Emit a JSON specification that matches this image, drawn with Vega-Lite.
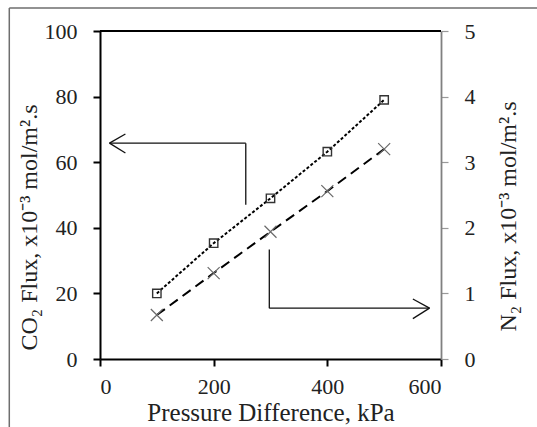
{
  "$schema": "https://vega.github.io/schema/vega-lite/v6.json",
  "width": 341,
  "height": 328,
  "autosize": {"type": "none"},
  "padding": {"left": 100, "top": 31, "right": 96, "bottom": 68},
  "background": "white",
  "config": {
    "view": {"stroke": null},
    "font": "Liberation Serif",
    "axis": {"grid": false, "labelFont": "Liberation Serif", "titleFont": "Liberation Serif", "labelFontSize": 22, "titleFontSize": 24, "labelColor": "#222", "titleColor": "#222", "titleFontWeight": "normal"}
  },
  "datasets": {
    "flux": [
      {"pressure": 100, "co2": 20.0, "n2": 0.67},
      {"pressure": 200, "co2": 35.3, "n2": 1.31},
      {"pressure": 300, "co2": 49.0, "n2": 1.94},
      {"pressure": 400, "co2": 63.2, "n2": 2.56},
      {"pressure": 500, "co2": 79.0, "n2": 3.20}
    ],
    "arrows": [
      {"x": 256.5, "y": 47.0, "x2": 256.5, "y2": 65.8},
      {"x": 256.5, "y": 65.8, "x2": 16.7, "y2": 65.8},
      {"x": 16.7, "y": 65.8, "x2": 44.7, "y2": 68.6},
      {"x": 16.7, "y": 65.8, "x2": 44.7, "y2": 62.8},
      {"x": 297.9, "y": 33.4, "x2": 297.9, "y2": 15.5},
      {"x": 297.9, "y": 15.5, "x2": 579.8, "y2": 15.5},
      {"x": 579.8, "y": 15.5, "x2": 550.5, "y2": 18.3},
      {"x": 579.8, "y": 15.5, "x2": 550.5, "y2": 12.3}
    ],
    "plotTop": [
      {"x": 0, "y": 100, "x2": 600, "y2": 100}
    ],
    "frame": [
      {"x": -159.6, "y": 107.0, "x2": 772, "y2": 107.0},
      {"x": -159.6, "y": 107.0, "x2": -159.6, "y2": -30}
    ]
  },
  "layer": [
    {
      "layer": [
        {
          "data": {"name": "frame"},
          "mark": {"type": "rule", "color": "#6e6e6e", "strokeWidth": 1.5},
          "encoding": {
            "x": {"field": "x", "type": "quantitative"},
            "y": {"field": "y", "type": "quantitative"},
            "x2": {"field": "x2"},
            "y2": {"field": "y2"}
          }
        },
        {
          "data": {"name": "plotTop"},
          "mark": {"type": "rule", "color": "black", "strokeWidth": 2},
          "encoding": {
            "x": {"field": "x", "type": "quantitative"},
            "y": {"field": "y", "type": "quantitative"},
            "x2": {"field": "x2"},
            "y2": {"field": "y2"}
          }
        },
        {
          "data": {"name": "flux"},
          "mark": {"type": "line", "color": "black", "strokeWidth": 2, "strokeDash": [3, 2]},
          "encoding": {
            "x": {"field": "pressure", "type": "quantitative", "scale": {"domain": [0, 600]},
                  "axis": {"values": [0, 200, 400, 600], "title": "Pressure Difference, kPa", "domainColor": "black", "domainWidth": 2, "tickColor": "black", "tickWidth": 2, "tickSize": 7, "labelPadding": 10, "titlePadding": 3, "titleFontSize": 25}},
            "y": {"field": "co2", "type": "quantitative", "scale": {"domain": [0, 100]},
                  "axis": {"values": [0, 20, 40, 60, 80, 100], "title": "CO₂ Flux, x10⁻³ mol/m².s", "domainColor": "black", "domainWidth": 2, "tickColor": "black", "tickWidth": 2, "tickSize": 7, "labelPadding": 16, "titleX": -64, "titleY": 196, "titleAngle": 270, "titleAlign": "center", "titleBaseline": "alphabetic"}}
          }
        },
        {
          "data": {"name": "flux"},
          "mark": {"type": "point", "shape": "square", "filled": false, "color": "#333", "strokeWidth": 1.4, "size": 70, "opacity": 1},
          "encoding": {
            "x": {"field": "pressure", "type": "quantitative"},
            "y": {"field": "co2", "type": "quantitative"}
          }
        },
        {
          "data": {"name": "arrows"},
          "mark": {"type": "rule", "color": "#111", "strokeWidth": 1.3},
          "encoding": {
            "x": {"field": "x", "type": "quantitative"},
            "y": {"field": "y", "type": "quantitative"},
            "x2": {"field": "x2"},
            "y2": {"field": "y2"}
          }
        }
      ]
    },
    {
      "layer": [
        {
          "data": {"name": "flux"},
          "mark": {"type": "line", "color": "black", "strokeWidth": 2, "strokeDash": [10, 6]},
          "encoding": {
            "x": {"field": "pressure", "type": "quantitative"},
            "y": {"field": "n2", "type": "quantitative", "scale": {"domain": [0, 5]},
                  "axis": {"orient": "right", "values": [0, 1, 2, 3, 4, 5], "format": "d", "title": "N₂ Flux, x10⁻³ mol/m².s", "domainColor": "#808080", "domainWidth": 1.8, "tickColor": "#999", "tickWidth": 1.2, "tickSize": 7, "labelPadding": 16, "titleX": 74, "titleY": 185, "titleAngle": 270, "titleAlign": "center", "titleBaseline": "alphabetic"}}
          }
        },
        {
          "data": {"name": "flux"},
          "mark": {"type": "point", "shape": "M-1,-1L1,1M-1,1L1,-1", "filled": false, "color": "#6a6a6a", "strokeWidth": 1.2, "size": 144, "opacity": 1},
          "encoding": {
            "x": {"field": "pressure", "type": "quantitative"},
            "y": {"field": "n2", "type": "quantitative"}
          }
        }
      ]
    }
  ],
  "resolve": {"scale": {"y": "independent"}}
}
